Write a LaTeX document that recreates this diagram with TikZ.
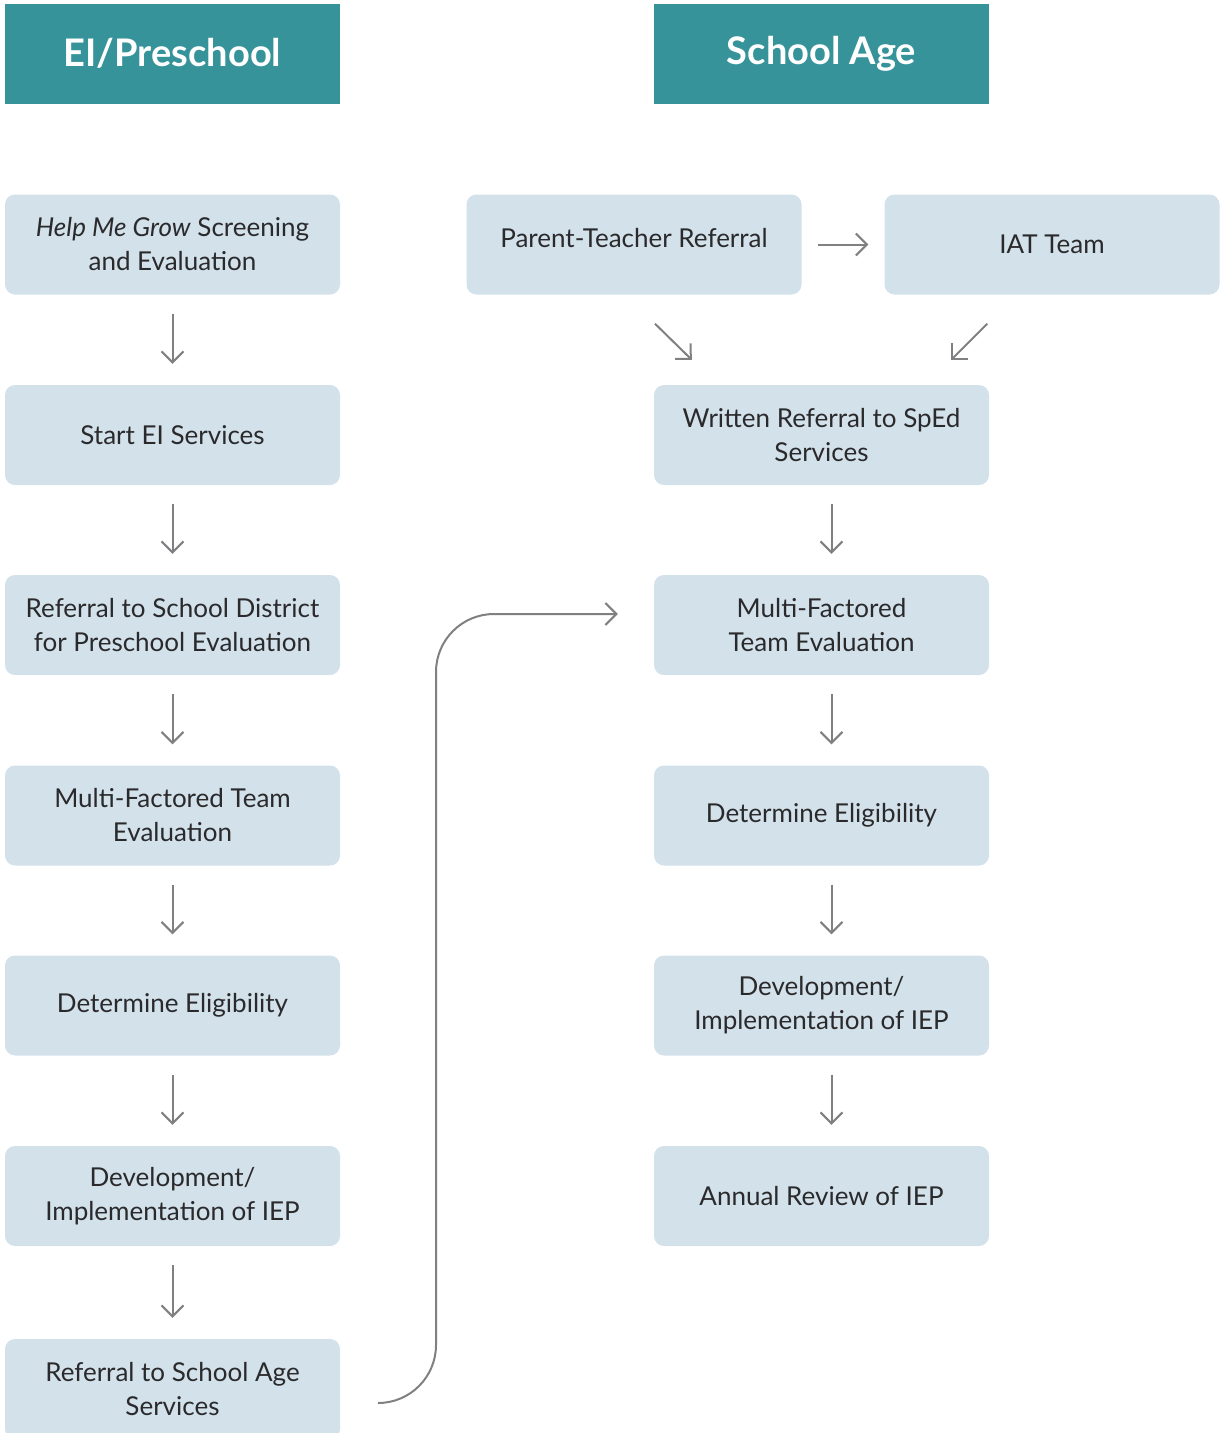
\documentclass[tikz,border=0pt]{standalone}
\usepackage{fontspec}
\setmainfont{Lato}
\usetikzlibrary{arrows.meta, calc}
\definecolor{teal}{HTML}{37939A}
\definecolor{boxfill}{HTML}{D3E1EA}
\definecolor{arrowgray}{HTML}{808082}
\definecolor{textgray}{HTML}{2A2A2C}
\tikzset{>={Straight Barb[length=11pt, width=22pt]}}
\tikzset{
    header/.style = {fill=teal, text=white, minimum width=335pt, minimum height=100pt,
        font=\fontsize{38}{40}\selectfont\bfseries},
    stepbox/.style = {fill=boxfill, text=textgray, rounded corners=10pt, minimum width=335pt,
        minimum height=100pt, align=center, font=\fontsize{26}{34}\selectfont},
    flow/.style = {->, arrowgray, line width=2pt},
    down/.style = {flow, shorten <=19pt, shorten >=21pt}
}

\begin{document}
\begin{tikzpicture}[x=1pt, y=-1pt]
    \useasboundingbox (0,0) rectangle (1219,1433);
    % headers
    \node[header] (hpre) at (172.5,53.5) {EI/Preschool};
    \node[header] (hsch) at (821.5,53.5) {School Age};
    % EI/Preschool column
    \node[stepbox] (l1) at (172.5,244.5) {\textit{Help Me Grow} Screening\\and Evaluation};
    \node[stepbox] (l2) at (172.5,435) {Start EI Services};
    \node[stepbox] (l3) at (172.5,625) {Referral to School District\\for Preschool Evaluation};
    \node[stepbox] (l4) at (172.5,815.5) {Multi-Factored Team\\Evaluation};
    \node[stepbox] (l5) at (172.5,1005.5) {Determine Eligibility};
    \node[stepbox] (l6) at (172.5,1196) {Development/\\Implementation of IEP};
    \node[stepbox] (l7) at (172.5,1389) {Referral to School Age\\Services};
    % School Age column
    \node[stepbox] (ptr) at (634,244.5) {Parent-Teacher Referral\\[-20pt]};
    \node[stepbox] (iat) at (1052,244.5) {IAT Team};
    \node[stepbox] (r1) at (821.5,435) {Written Referral to SpEd\\Services};
    \node[stepbox] (r2) at (821.5,625) {Multi-Factored\\Team Evaluation};
    \node[stepbox] (r3) at (821.5,815.5) {Determine Eligibility};
    \node[stepbox] (r4) at (821.5,1005.5) {Development/\\Implementation of IEP};
    \node[stepbox] (r5) at (821.5,1196) {Annual Review of IEP};
    % arrows
    \foreach \a/\b in {l1/l2, l2/l3, l3/l4, l4/l5, l5/l6, l6/l7}
        \draw[down] (\a.south) -- (\b.north);
    \foreach \a/\b in {r1/r2, r2/r3, r3/r4, r4/r5}
        \draw[down] ($(\a.south)+(10,0)$) -- ($(\b.north)+(10,0)$);
    \draw[flow, shorten <=16pt, shorten >=16pt] (ptr) -- (iat);
    \coordinate (ptrout) at ($(ptr.south)+(21,29)$);
    \coordinate (ptrin) at ($(r1.north west)+(38,-25)$);
    \coordinate (iatout) at ($(iat.south west)+(103,29)$);
    \coordinate (iatin) at ($(r1.north east)+(-38,-25)$);
    \draw[flow] (ptrout) -- (ptrin);
    \draw[flow] (iatout) -- (iatin);
    \coordinate (hookout) at ($(l7.east)+(38,14)$);
    \coordinate (hookin) at ($(r2.west)+(-36,-11)$);
    \draw[flow, rounded corners=58pt] (hookout) -| (436,614) -- (hookin);
\end{tikzpicture}
\end{document}
